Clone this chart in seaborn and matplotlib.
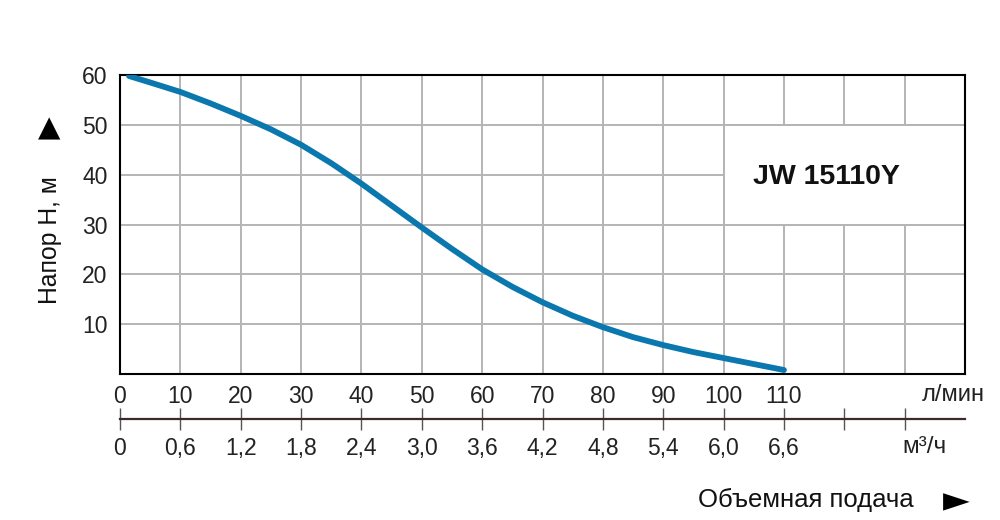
"""Pump curve JW 15110Y: head vs flow rate."""

import pandas as pd
import matplotlib
matplotlib.use("Agg")
import matplotlib.pyplot as plt
import seaborn as sns
from matplotlib.patches import Rectangle

# values
flow_lpm = [1.5, 5, 10, 15, 20, 25, 30, 35, 40, 45, 50, 55, 60,
            65, 70, 75, 80, 85, 90, 95, 100, 105, 110]
head_m = [59.8, 58.5, 56.6, 54.3, 51.8, 49.1, 46.0, 42.3, 38.2, 33.8, 29.4, 25.1, 21.0,
          17.5, 14.4, 11.7, 9.4, 7.4, 5.8, 4.4, 3.2, 2.0, 0.8]

x_ticks = list(range(0, 140, 10))
lpm_labels = [str(v) for v in range(0, 120, 10)] + ["", ""]
m3h_labels = ["0", "0,6", "1,2", "1,8", "2,4", "3,0", "3,6", "4,2", "4,8",
              "5,4", "6,0", "6,6", "", ""]
y_ticks = [10, 20, 30, 40, 50, 60]
model = "JW 15110Y"

df = pd.DataFrame({"flow": flow_lpm, "head": head_m})

sns.set_style("white")
plt.rcParams["font.family"] = ["Liberation Sans", "DejaVu Sans"]

fig = plt.figure(figsize=(10, 5.2), dpi=100)
ax = fig.add_axes([0.12, 1 - 374 / 520, 0.845, (374 - 75) / 520])

grid_col = "#b4b4b4"
txt_col = "#222222"
ax.set_xlim(0, 140)
ax.set_ylim(0, 60)
ax.set_xticks(x_ticks)
ax.set_xticklabels(lpm_labels)
ax.set_yticks(y_ticks)
ax.grid(True, color=grid_col, linewidth=1.4)
ax.set_axisbelow(True)
ax.tick_params(axis="both", length=0, labelsize=16.5, colors=txt_col)
ax.tick_params(axis="x", pad=8)
ax.tick_params(axis="y", pad=9)
for sp in ax.spines.values():
    sp.set_color("black")
    sp.set_linewidth(1.5)

# white box for model name
ax.add_patch(Rectangle((100, 30), 40, 20, facecolor="white",
                       edgecolor=grid_col, linewidth=1.4, zorder=1.5))
ax.text(117, 39.6, model, ha="center", va="center", fontsize=20.5,
        fontweight="bold", color="#111111", zorder=3)

sns.lineplot(data=df, x="flow", y="head", ax=ax, color="#0a78ae",
             linewidth=4.2, solid_capstyle="round", zorder=4)
ax.set_xlabel("")
ax.set_ylabel("")

# second flow axis (m3/h)
ax2 = fig.add_axes([0.12, 1 - 419 / 520, 0.845, 0.0001])
ax2.set_xlim(0, 140)
ax2.set_yticks([])
ax2.set_xticks(x_ticks)
ax2.set_xticklabels(m3h_labels)
for name in ["top", "left", "right"]:
    ax2.spines[name].set_visible(False)
ax2.spines["bottom"].set_color("#3a2a2a")
ax2.spines["bottom"].set_linewidth(1.6)
ax2.patch.set_alpha(0)
ax2.tick_params(axis="x", bottom=True, direction="inout", length=16, width=1,
                color="#555555", labelsize=16.5, labelcolor=txt_col, pad=5)

fig.text(0.985, 1 - 395 / 520, "л/мин", ha="right", va="center", fontsize=17, color=txt_col)
fig.text(0.924, 1 - 447 / 520, "м³/ч", ha="center", va="center", fontsize=17.5, color=txt_col)
fig.text(0.8055, 1 - 500 / 520, "Объемная подача", ha="center", va="center",
         fontsize=18.5, color="#111111")
fig.text(0.956, 1 - 501 / 520, "►", ha="center", va="center", fontsize=25,
         color="black", family="DejaVu Sans")
fig.text(0.049, 1 - 128 / 520, "▲", ha="center", va="center", fontsize=21,
         color="black", family="DejaVu Sans")
fig.text(0.050, 1 - 240 / 520, "Напор Н, м", ha="center", va="center",
         rotation=90, fontsize=17.8, color="#111111")

fig.savefig("out.png", dpi=100)
